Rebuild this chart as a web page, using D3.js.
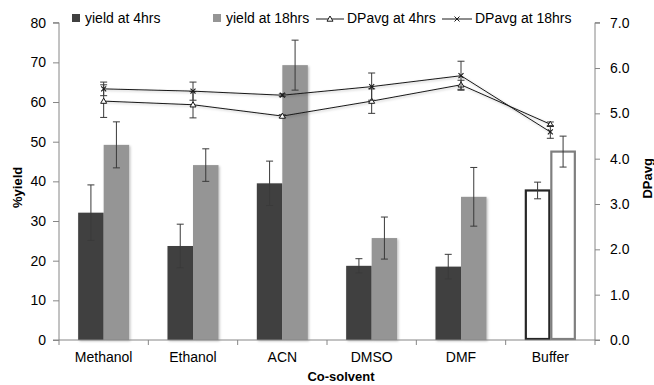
<!DOCTYPE html>
<html><head><meta charset="utf-8">
<script src="https://cdn.jsdelivr.net/npm/d3@7"></script>
<style>body{margin:0;background:#fff}svg{display:block;font-family:"Liberation Sans",Arial,sans-serif}</style>
</head><body><svg id="c" width="654" height="385"></svg>
<script>
const categories = ["Methanol","Ethanol","ACN","DMSO","DMF","Buffer"];
const yield4 = [32.1, 23.7, 39.5, 18.7, 18.5, 37.7];
const yield4Err = [7.0, 5.5, 5.6, 1.8, 3.1, 2.1];
const yield18 = [49.2, 44.1, 69.3, 25.7, 36.1, 47.5];
const yield18Err = [5.8, 4.1, 6.3, 5.3, 7.4, 3.9];
const dp4 = [5.27, 5.19, 4.94, 5.27, 5.63, 4.76];
const dp4Err = [0.36, 0.29, 0.03, 0.27, 0.1, 0.05];
const dp18 = [5.54, 5.49, 5.40, 5.59, 5.83, 4.59];
const dp18Err = [0.15, 0.2, 0.03, 0.3, 0.32, 0.14];
const leftTicks = [0,10,20,30,40,50,60,70,80];
const rightTicks = [0,1,2,3,4,5,6,7];
const seriesNames = ["yield at 4hrs","yield at 18hrs","DPavg at 4hrs","DPavg at 18hrs"];

const svg = d3.select("#c");
const defs = svg.append("defs");
const f = defs.append("filter").attr("id","sh").attr("x","-20%").attr("y","-20%").attr("width","140%").attr("height","140%");
f.append("feDropShadow").attr("dx",1.2).attr("dy",1.2).attr("stdDeviation",1).attr("flood-color","#000").attr("flood-opacity",0.25);

const L = 59, R = 595, T = 22.7, B = 340;
const x0 = d3.scaleBand().domain(categories).range([L, R]).paddingInner(0.429).paddingOuter(0.2145);
const x1 = d3.scaleBand().domain(["a","b"]).range([0, x0.bandwidth()]);
const yL = d3.scaleLinear().domain([0, 80]).range([B, T]);
const yR = d3.scaleLinear().domain([0, 7]).range([B, T]);
const axisCol = "#868686", fs = 14;

// bars
const barData = [];
categories.forEach((c,i)=>{
  barData.push({c, k:"a", v:yield4[i], e:yield4Err[i], buf:c==="Buffer"});
  barData.push({c, k:"b", v:yield18[i], e:yield18Err[i], buf:c==="Buffer"});
});
const fillC = {a:"#404040", b:"#959595"};
const strokeC = {a:"#262626", b:"#7f7f7f"};
svg.append("g").selectAll("rect").data(barData).join("rect")
  .attr("x", d => x0(d.c) + x1(d.k) + (d.buf ? 1 : 0))
  .attr("width", d => x1.bandwidth() - (d.buf ? 2 : 0))
  .attr("y", d => yL(d.v))
  .attr("height", d => yL(0) - yL(d.v) - (d.buf ? 1 : 0))
  .attr("fill", d => d.buf ? "#fff" : fillC[d.k])
  .attr("stroke", d => d.buf ? strokeC[d.k] : "none")
  .attr("stroke-width", 2.2)
  .attr("filter", d => d.buf ? null : "url(#sh)");

// error bars for bars
const eb = svg.append("g").attr("stroke", "#3a3a3a").attr("stroke-width", 1);
barData.forEach(d=>{
  const cx = x0(d.c) + x1(d.k) + x1.bandwidth()/2;
  const y1 = yL(d.v + d.e), y2 = yL(d.v - d.e);
  eb.append("line").attr("x1",cx).attr("x2",cx).attr("y1",y1).attr("y2",y2);
  eb.append("line").attr("x1",cx-3.5).attr("x2",cx+3.5).attr("y1",y1).attr("y2",y1);
  eb.append("line").attr("x1",cx-3.5).attr("x2",cx+3.5).attr("y1",y2).attr("y2",y2);
});

// axes
const gx = svg.append("g").attr("transform", `translate(0,${B})`);
gx.append("line").attr("x1",L).attr("x2",R).attr("stroke",axisCol);
const bounds = d3.range(categories.length+1).map(i => L + i*x0.step());
gx.selectAll(".tk").data(bounds).join("line").attr("x1",d=>d).attr("x2",d=>d).attr("y1",0).attr("y2",5).attr("stroke",axisCol);
gx.selectAll("text").data(categories).join("text")
  .attr("x", d => x0(d) + x0.bandwidth()/2).attr("y", 22).attr("text-anchor","middle")
  .attr("font-size", fs).attr("fill","#000").text(d=>d);

const gl = svg.append("g").attr("transform", `translate(${L},0)`);
gl.call(d3.axisLeft(yL).tickValues(leftTicks).tickSize(6).tickPadding(7).tickFormat(d3.format("d")));
gl.select(".domain").attr("stroke",axisCol).attr("d", `M-6,${T}H0V${B}H-6`);
gl.selectAll(".tick line").attr("stroke",axisCol);
gl.selectAll("text").attr("font-size",fs).attr("font-family","Liberation Sans, Arial, sans-serif").attr("fill","#000");

const gr = svg.append("g").attr("transform", `translate(${R},0)`);
gr.call(d3.axisRight(yR).tickValues(rightTicks).tickSize(5).tickPadding(10).tickFormat(d3.format(".1f")));
gr.select(".domain").attr("stroke",axisCol).attr("d", `M5,${T}H0V${B}H5`);
gr.selectAll(".tick line").attr("stroke",axisCol);
gr.selectAll("text").attr("font-size",fs).attr("font-family","Liberation Sans, Arial, sans-serif").attr("fill","#000");

// axis titles
svg.append("text").attr("transform",`translate(22,${(T+B)/2+6}) rotate(-90)`).attr("text-anchor","middle")
  .attr("font-size",13).attr("font-weight","bold").text("%yield");
svg.append("text").attr("transform",`translate(652,${(T+B)/2-3}) rotate(-90)`).attr("text-anchor","middle")
  .attr("font-size",13).attr("font-weight","bold").text("DPavg");
svg.append("text").attr("x",341).attr("y",381).attr("text-anchor","middle")
  .attr("font-size",13).attr("font-weight","bold").text("Co-solvent");

// lines
const cx = c => x0(c) + x0.bandwidth()/2;
const lineGen = d3.line().x(d=>cx(d.c)).y(d=>yR(d.v));
function drawLine(vals, errs, marker){
  const pts = categories.map((c,i)=>({c, v:vals[i], e:errs[i]}));
  const g = svg.append("g");
  g.append("path").datum(pts).attr("d", lineGen).attr("fill","none").attr("stroke","#1a1a1a").attr("stroke-width",1).attr("filter","url(#sh)");
  pts.forEach(p=>{
    const x = cx(p.c), y1 = yR(p.v+p.e), y2 = yR(p.v-p.e);
    g.append("line").attr("x1",x).attr("x2",x).attr("y1",y1).attr("y2",y2).attr("stroke","#3a3a3a");
    [y1,y2].forEach(yy=>g.append("line").attr("x1",x-3.5).attr("x2",x+3.5).attr("y1",yy).attr("y2",yy).attr("stroke","#3a3a3a"));
    const y = yR(p.v);
    if (marker === "tri") {
      g.append("path").attr("d", `M${x},${y-3}L${x+3},${y+2.2}L${x-3},${y+2.2}Z`).attr("fill","#fff").attr("stroke","#1a1a1a").attr("stroke-width",1);
    } else {
      g.append("path").attr("d", `M${x-2.5},${y-2.5}L${x+2.5},${y+2.5}M${x-2.5},${y+2.5}L${x+2.5},${y-2.5}`).attr("stroke","#1a1a1a").attr("stroke-width",1.1);
    }
  });
}
drawLine(dp4, dp4Err, "tri");
drawLine(dp18, dp18Err, "x");

// legend
const lg = svg.append("g").attr("font-size",14);
const ly = 19;
lg.append("rect").attr("x",72).attr("y",ly-5).attr("width",8).attr("height",8).attr("fill",fillC.a);
lg.append("text").attr("x",85).attr("y",ly+4).text(seriesNames[0]);
lg.append("rect").attr("x",213).attr("y",ly-5).attr("width",8).attr("height",8).attr("fill",fillC.b);
lg.append("text").attr("x",226).attr("y",ly+4).text(seriesNames[1]);
lg.append("line").attr("x1",316).attr("x2",344).attr("y1",ly).attr("y2",ly).attr("stroke","#1a1a1a");
lg.append("path").attr("d",`M330,${ly-3}L333,${ly+2.2}L327,${ly+2.2}Z`).attr("fill","#fff").attr("stroke","#1a1a1a");
lg.append("text").attr("x",347).attr("y",ly+4).text(seriesNames[2]);
lg.append("line").attr("x1",442).attr("x2",472).attr("y1",ly).attr("y2",ly).attr("stroke","#1a1a1a");
lg.append("path").attr("d",`M454.5,${ly-2.5}L459.5,${ly+2.5}M454.5,${ly+2.5}L459.5,${ly-2.5}`).attr("stroke","#1a1a1a");
lg.append("text").attr("x",475).attr("y",ly+4).text(seriesNames[3]);
</script></body></html>
